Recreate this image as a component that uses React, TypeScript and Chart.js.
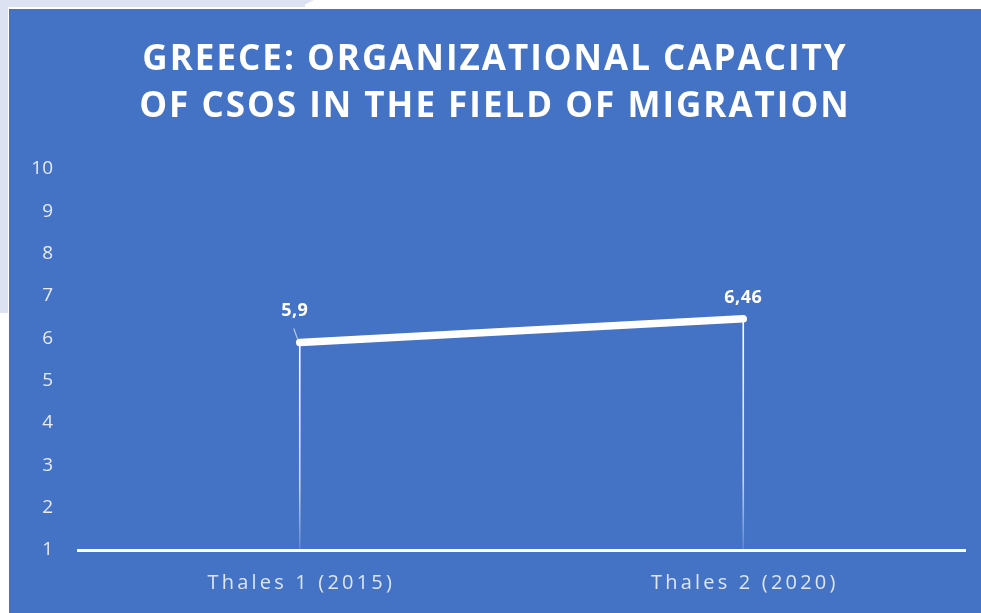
import React, { useEffect, useRef } from 'react';
import { Chart, registerables } from 'chart.js';

Chart.register(...registerables);

const categories = ['Thales 1 (2015)', 'Thales 2 (2020)'];
const capacityValues = [5.9, 6.46];
const yTickValues = [1, 2, 3, 4, 5, 6, 7, 8, 9, 10];
const titleLines = ['GREECE: ORGANIZATIONAL CAPACITY', 'OF CSOS IN THE FIELD OF MIGRATION'];

const BLUE = '#4472C4';

function wrapSpacing(obj: any, method: string, spacing: string, shiftX = 0) {
  if (!obj || obj['__wrapped_' + method]) return;
  const orig = obj[method].bind(obj);
  obj[method] = (...args: any[]) => {
    const ctx = obj.ctx || obj.chart?.ctx;
    ctx.save();
    ctx.letterSpacing = spacing;
    if (shiftX) ctx.translate(shiftX, 0);
    orig(...args);
    ctx.restore();
  };
  obj['__wrapped_' + method] = true;
}

const spacingPlugin = {
  id: 'spacing',
  beforeDraw(chart: any) {
    wrapSpacing(chart.scales.x, 'drawLabels', '3.2px', 1.5);
    if (chart.titleBlock) {
      chart.titleBlock.ctx = chart.ctx;
      wrapSpacing(chart.titleBlock, 'draw', '2px', 8);
    }
  },
};

const dropLinePlugin = {
  id: 'dropLines',
  beforeDatasetsDraw(chart: any) {
    const { ctx, chartArea } = chart;
    const meta = chart.getDatasetMeta(0);
    ctx.save();
    meta.data.forEach((pt: any) => {
      const g = ctx.createLinearGradient(0, pt.y, 0, chartArea.bottom);
      g.addColorStop(0, 'rgba(255,255,255,1)');
      g.addColorStop(0.7, 'rgba(255,255,255,0.7)');
      g.addColorStop(1, 'rgba(255,255,255,0.15)');
      ctx.strokeStyle = g;
      ctx.lineWidth = 1.6;
      ctx.beginPath();
      ctx.moveTo(pt.x, pt.y);
      ctx.lineTo(pt.x, chartArea.bottom);
      ctx.stroke();
    });
    ctx.restore();
  },
};

const labelOffsets = [
  { dx: -5, dy: -32, leader: true },
  { dx: 0, dy: -21, leader: false },
];

const valueLabelPlugin = {
  id: 'valueLabels',
  afterDatasetsDraw(chart: any) {
    const { ctx } = chart;
    const meta = chart.getDatasetMeta(0);
    const values = chart.data.datasets[0].data as number[];
    ctx.save();
    meta.data.forEach((pt: any, i: number) => {
      const off = labelOffsets[i] || { dx: 0, dy: -22, leader: false };
      if (off.leader) {
        ctx.strokeStyle = 'rgba(190,205,235,0.9)';
        ctx.lineWidth = 1.2;
        ctx.beginPath();
        ctx.moveTo(pt.x - 6, pt.y - 14);
        ctx.lineTo(pt.x - 2, pt.y - 3);
        ctx.stroke();
      }
      ctx.font = 'bold 18px "Open Sans"';
      ctx.fillStyle = '#ffffff';
      ctx.textAlign = 'center';
      ctx.textBaseline = 'middle';
      (ctx as any).letterSpacing = '0.5px';
      ctx.fillText(String(values[i]).replace('.', ','), pt.x + off.dx, pt.y + off.dy);
    });
    ctx.restore();
  },
};

export default function App() {
  const canvasRef = useRef<HTMLCanvasElement | null>(null);

  useEffect(() => {
    document.body.style.margin = '0';
    const canvas = canvasRef.current;
    if (!canvas) return;
    const chart = new Chart(canvas, {
      type: 'line',
      data: {
        labels: categories,
        datasets: [
          {
            data: capacityValues,
            borderColor: '#ffffff',
            borderWidth: 7.5,
            borderCapStyle: 'round',
            pointRadius: 0,
            pointHoverRadius: 0,
            fill: false,
            tension: 0,
          },
        ],
      },
      options: {
        animation: false,
        responsive: false,
        maintainAspectRatio: false,
        devicePixelRatio: 1,
        layout: { padding: { top: 0, right: 16, bottom: -3, left: 0 } },
        plugins: {
          legend: { display: false },
          tooltip: { enabled: false },
          title: {
            display: true,
            text: titleLines,
            color: '#ffffff',
            font: { family: '"Open Sans"', size: 35, weight: 'bold', lineHeight: 47 / 35 },
            padding: { top: 27.5, bottom: 38.5 },
          },
        },
        scales: {
          x: {
            type: 'category',
            offset: true,
            grid: { display: false, drawTicks: false },
            border: { display: true, color: '#ffffff', width: 3 },
            ticks: {
              color: '#dde6f4',
              font: { family: '"Open Sans"', size: 20, lineHeight: 1 },
              padding: 23,
              maxRotation: 0,
            },
          },
          y: {
            min: 1,
            max: 10,
            afterFit(scale: any) {
              scale.width = 69;
            },
            afterBuildTicks(scale: any) {
              scale.ticks = yTickValues.map((v) => ({ value: v }));
            },
            grid: { display: false, drawTicks: false },
            border: { display: false },
            ticks: {
              color: '#e6ebf6',
              font: { family: '"Open Sans"', size: 19 },
              padding: 25,
            },
          },
        },
      },
      plugins: [spacingPlugin, dropLinePlugin, valueLabelPlugin],
    });
    return () => chart.destroy();
  }, []);

  return (
    <div style={{ position: 'relative', width: 981, height: 613, background: '#ffffff', overflow: 'hidden' }}>
      <div style={{ position: 'absolute', left: 0, top: 0, width: 305, height: 7, background: '#dde2f3' }} />
      <div
        style={{
          position: 'absolute',
          left: 300,
          top: 0,
          width: 14,
          height: 7,
          background: '#dde2f3',
          clipPath: 'polygon(0 0, 100% 0, 0 100%)',
        }}
      />
      <div style={{ position: 'absolute', left: 0, top: 0, width: 8, height: 313, background: '#dde2f3' }} />
      <div style={{ position: 'absolute', left: 9, top: 9, width: 972, height: 604, background: BLUE }}>
        <canvas ref={canvasRef} width={972} height={604} style={{ display: 'block', width: 972, height: 604 }} />
      </div>
    </div>
  );
}
